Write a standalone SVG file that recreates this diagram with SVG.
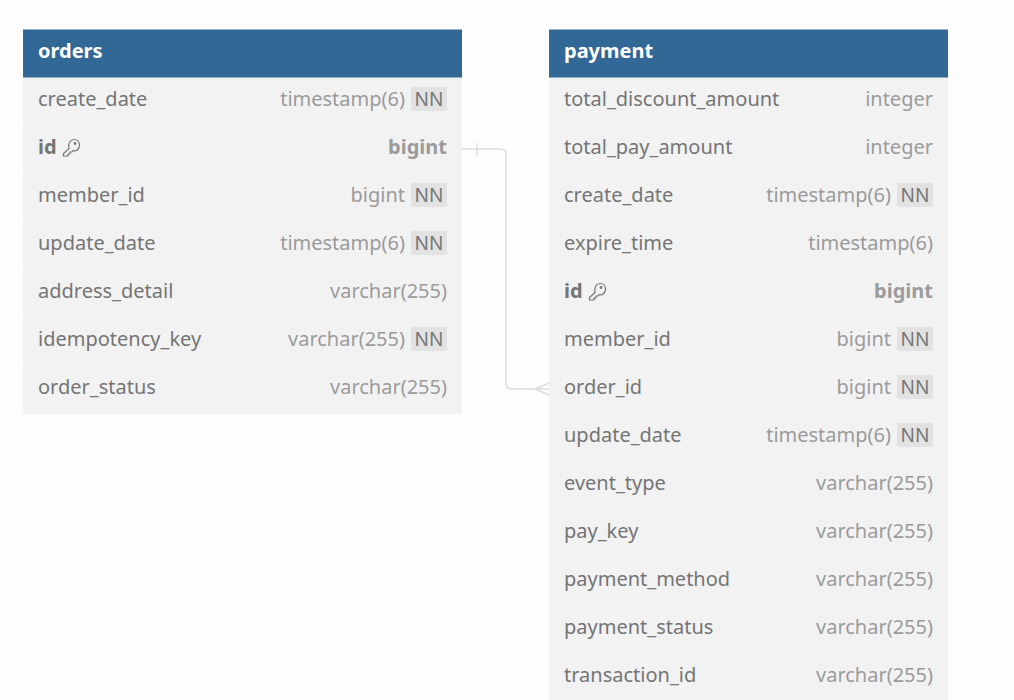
<svg xmlns="http://www.w3.org/2000/svg" width="1014" height="700" viewBox="0 0 1014 700">
<style>
text{font-family:"Noto Sans","Open Sans",sans-serif;font-size:20px}
.hd{fill:#316896}
.hl{fill:none;stroke:#6f9abd;stroke-width:1}
.body{fill:#f2f2f2}
.sep{stroke:#f6f6f6;stroke-width:1}
.t{font-weight:700;fill:#fff}
.n{fill:#757575}
.nb{fill:#757575;font-weight:700}
.y{fill:#9b9b9b;text-anchor:end}
.yb{fill:#9b9b9b;text-anchor:end;font-weight:700}
.bd{fill:#e2e2e2}
.nn{fill:#757575;text-anchor:middle;font-size:19px}
.c{fill:none;stroke:#dcdcdc;stroke-width:1.5}
.k{fill:none;stroke:#757575;stroke-width:1.2}
</style>
<defs>
<rect id="badge" x="0" y="0" width="36" height="24" rx="2" class="bd"/>
<g id="key"><path class="k" d="M7 10.5 L1.5 15.5 L1.5 18 L6 18 L6 16 L8 16 L8 14 L10 14 L11 12.7 C15 13.5 17.5 10.5 17.5 7 C17.5 3.5 15 1.5 12 1.5 C8.5 1.5 6 4.5 7 10.5 Z"/><circle class="k" cx="13" cy="5.5" r="0.8"/></g>
</defs>
<rect width="1014" height="700" fill="#fdfdfd"/>
<g id="connectors">
<path class="c" d="M462 149 H500 Q506 149 506 155 V383 Q506 389 512 389 H549"/>
<path class="c" d="M477 143 V156"/>
<path class="c" d="M549 383 L535 389 L549 395"/>
</g>
<g id="orders">
<rect class="body" x="23" y="77" width="439" height="337"/>
<rect class="hd" x="23" y="29.5" width="439" height="48"/>
<path class="sep" d="M23 125.500H462M23 173.500H462M23 221.500H462M23 269.500H462M23 317.500H462M23 365.500H462"/>
<text class="t" x="38" y="58">orders</text>
<text class="n" x="38" y="106">create_date</text><text class="y" x="405" y="106">timestamp(6)</text><use href="#badge" x="411" y="87"/><text class="nn" x="429" y="106">NN</text>
<text class="nb" x="38" y="154">id</text><use href="#key" x="62" y="138"/><text class="yb" x="447" y="154">bigint</text>
<text class="n" x="38" y="202">member_id</text><text class="y" x="405" y="202">bigint</text><use href="#badge" x="411" y="183"/><text class="nn" x="429" y="202">NN</text>
<text class="n" x="38" y="250">update_date</text><text class="y" x="405" y="250">timestamp(6)</text><use href="#badge" x="411" y="231"/><text class="nn" x="429" y="250">NN</text>
<text class="n" x="38" y="298">address_detail</text><text class="y" x="447" y="298">varchar(255)</text>
<text class="n" x="38" y="346">idempotency_key</text><text class="y" x="405" y="346">varchar(255)</text><use href="#badge" x="411" y="327"/><text class="nn" x="429" y="346">NN</text>
<text class="n" x="38" y="394">order_status</text><text class="y" x="447" y="394">varchar(255)</text>
</g>
<g id="payment">
<rect class="body" x="549" y="77" width="399" height="623"/>
<rect class="hd" x="549" y="29.5" width="399" height="48"/>
<path class="sep" d="M549 125.500H948M549 173.500H948M549 221.500H948M549 269.500H948M549 317.500H948M549 365.500H948M549 413.500H948M549 461.500H948M549 509.500H948M549 557.500H948M549 605.500H948M549 653.500H948"/>
<text class="t" x="564" y="58">payment</text>
<text class="n" x="564" y="106">total_discount_amount</text><text class="y" x="933" y="106">integer</text>
<text class="n" x="564" y="154">total_pay_amount</text><text class="y" x="933" y="154">integer</text>
<text class="n" x="564" y="202">create_date</text><text class="y" x="891" y="202">timestamp(6)</text><use href="#badge" x="897" y="183"/><text class="nn" x="915" y="202">NN</text>
<text class="n" x="564" y="250">expire_time</text><text class="y" x="933" y="250">timestamp(6)</text>
<text class="nb" x="564" y="298">id</text><use href="#key" x="588" y="282"/><text class="yb" x="933" y="298">bigint</text>
<text class="n" x="564" y="346">member_id</text><text class="y" x="891" y="346">bigint</text><use href="#badge" x="897" y="327"/><text class="nn" x="915" y="346">NN</text>
<text class="n" x="564" y="394">order_id</text><text class="y" x="891" y="394">bigint</text><use href="#badge" x="897" y="375"/><text class="nn" x="915" y="394">NN</text>
<text class="n" x="564" y="442">update_date</text><text class="y" x="891" y="442">timestamp(6)</text><use href="#badge" x="897" y="423"/><text class="nn" x="915" y="442">NN</text>
<text class="n" x="564" y="490">event_type</text><text class="y" x="933" y="490">varchar(255)</text>
<text class="n" x="564" y="538">pay_key</text><text class="y" x="933" y="538">varchar(255)</text>
<text class="n" x="564" y="586">payment_method</text><text class="y" x="933" y="586">varchar(255)</text>
<text class="n" x="564" y="634">payment_status</text><text class="y" x="933" y="634">varchar(255)</text>
<text class="n" x="564" y="682">transaction_id</text><text class="y" x="933" y="682">varchar(255)</text>
</g>
</svg>
